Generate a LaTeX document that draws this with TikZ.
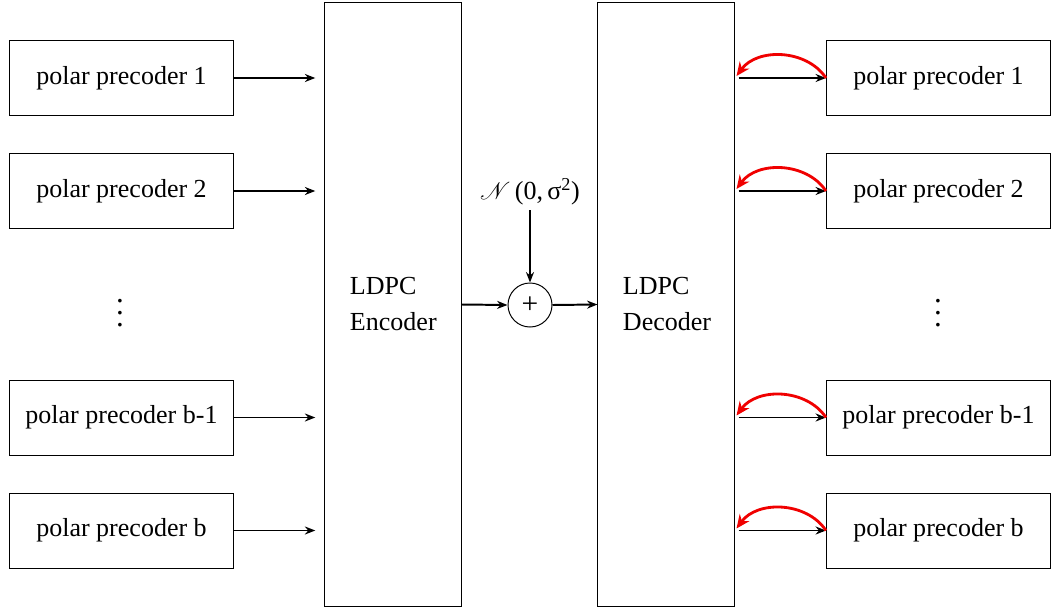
\documentclass[tikz,border=0pt]{standalone}
\usepackage{fontspec}
\usepackage{mathrsfs}
\setmainfont{Liberation Serif}
\usetikzlibrary{arrows.meta, positioning, calc}
\definecolor{backred}{HTML}{F00000}

\begin{document}
\begin{tikzpicture}[x=0.025cm, y=-0.025cm,
    every node/.style={font=\fontsize{18.5}{25.6}\selectfont},
    precbox/.style={draw, line width=0.7pt, minimum width=5.6cm, minimum height=1.875cm},
    codecbox/.style={draw, line width=0.7pt, minimum height=15.075cm, text width=2.15cm,
      inner xsep=0.625cm, align=left},
    sumnode/.style={draw, circle, line width=0.7pt, minimum size=1.1cm, inner sep=0pt},
    gapdots/.style={align=center, font=\fontsize{22}{8.6}\selectfont},
    feed/.style={line width=1.4pt, -{Stealth[length=2.6mm, width=2mm]}},
    back/.style={backred, line width=2pt, -{Stealth[length=3.4mm, width=3mm]}}]
    \useasboundingbox (0,0) rectangle (1054,613);
    % encoder side
    \node[codecbox] (enc) at (393,304.5) {LDPC\\Encoder};
    \node[precbox] (pl1) at (121.5,78) {polar precoder 1};
    \node[precbox] (pl2) at (121.5,191) {polar precoder 2};
    \node[gapdots] (ldots) at (120,313) {.\\.\\.};
    \node[precbox] (plb1) at (121.5,417.5) {polar precoder b-1};
    \node[precbox] (plb) at (121.5,530.5) {polar precoder b};
    \foreach \p in {pl1,pl2,plb1,plb}{%
      \draw[feed, shorten >=2.3mm] (\p.east) -- (enc.west |- \p.east);}
    % channel
    \node[sumnode] (add) at (530,305) {\fontsize{21}{24}\selectfont +};
    \node (noise) at (530,192) {$\mathscr{N}$\,(0,\,σ\textsuperscript{2})};
    \draw[feed] (noise) -- (add);
    \node[codecbox] (dec) at (666,304.5) {LDPC\\Decoder};
    \draw[feed] (enc.east) -- (add.west);
    \draw[feed] (add.east) -- (dec.west);
    % decoder side
    \node[precbox] (pr1) at (938.5,78) {polar precoder 1};
    \node[precbox] (pr2) at (938.5,191) {polar precoder 2};
    \node[gapdots] (rdots) at (938,313) {.\\.\\.};
    \node[precbox] (prb1) at (938.5,417.5) {polar precoder b-1};
    \node[precbox] (prb) at (938.5,530.5) {polar precoder b};
    \foreach \p in {pr1,pr2,prb1,prb}{%
      \draw[feed, shorten <=1mm] (dec.east |- \p.west) -- (\p.west);
      \draw[back] (\p.west) to[bend right=55] ($(dec.east |- \p.west)+(2,-2)$);}
  \end{tikzpicture}
\end{document}
